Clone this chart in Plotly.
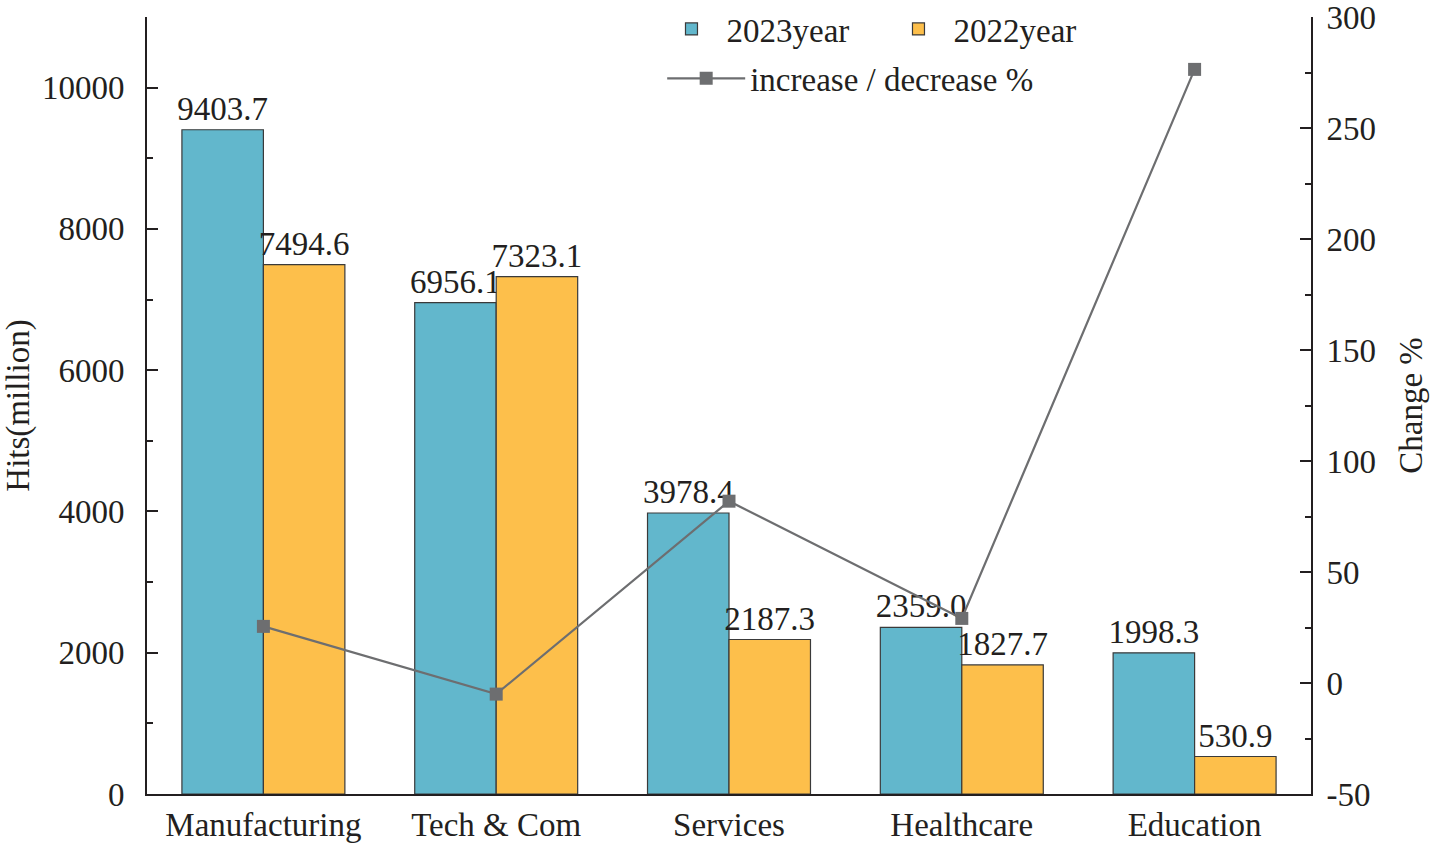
import plotly.graph_objects as go

categories = ["Manufacturing", "Tech & Com", "Services", "Healthcare", "Education"]
hits_2023 = [9403.7, 6956.1, 3978.4, 2359.0, 1998.3]
hits_2022 = [7494.6, 7323.1, 2187.3, 1827.7, 530.9]
change_pct = [25.5, -5.0, 81.9, 29.1, 276.4]
left_ticks = [0, 2000, 4000, 6000, 8000, 10000]
right_ticks = [-50, 0, 50, 100, 150, 200, 250, 300]

FONT = "Liberation Serif"
TXT = "#231f20"
FS = 33

fig = go.Figure()
fig.add_trace(go.Bar(
    x=categories, y=hits_2023, name="2023year",
    marker=dict(color="#62b7cc", line=dict(color="#3a3a3a", width=1.2)),
    text=[f"{v:.1f}" for v in hits_2023], textposition="outside",
    constraintext="none", cliponaxis=False,
    textfont=dict(family=FONT, size=FS, color=TXT),
    legend="legend",
))
fig.add_trace(go.Bar(
    x=categories, y=hits_2022, name="2022year",
    marker=dict(color="#fdbf4b", line=dict(color="#3a3a3a", width=1.2)),
    text=[f"{v:.1f}" for v in hits_2022], textposition="outside",
    constraintext="none", cliponaxis=False,
    textfont=dict(family=FONT, size=FS, color=TXT),
    legend="legend",
))
fig.add_trace(go.Scatter(
    x=categories, y=change_pct, name="increase / decrease %", yaxis="y2",
    mode="lines+markers",
    line=dict(color="#6d6e70", width=2.2),
    marker=dict(symbol="square", size=13, color="#6d6e70"),
    cliponaxis=False,
    legend="legend2",
))

axis_common = dict(
    showline=True, linecolor="#231f20", linewidth=2, showgrid=False, zeroline=False,
    tickfont=dict(family=FONT, size=FS, color=TXT), automargin=False,
    ticklabeloverflow="allow",
)

fig.update_layout(
    width=1432, height=844,
    margin=dict(l=147, r=121, t=17, b=50, autoexpand=False),
    paper_bgcolor="white", plot_bgcolor="white",
    font=dict(family=FONT, size=FS, color=TXT),
    barmode="group", bargap=0.3, bargroupgap=0,
    xaxis=dict(**axis_common, ticks="", range=[-0.5, 4.5], ticklabelstandoff=0),
    yaxis=dict(**axis_common, range=[0, 11000],
               tickvals=left_ticks, ticktext=[str(v) for v in left_ticks],
               ticks="inside", ticklen=11, tickwidth=2, tickcolor="#231f20",
               ticklabelstandoff=14,
               minor=dict(dtick=1000, tick0=0, ticks="inside", ticklen=6, tickwidth=2, tickcolor="#231f20"),
               title=dict(text="Hits(million)", font=dict(family=FONT, size=FS, color=TXT), standoff=13)),
    yaxis2=dict(**axis_common, overlaying="y", side="right", range=[-50, 300],
                tickvals=right_ticks, ticktext=[str(v) for v in right_ticks],
                ticks="inside", ticklen=11, tickwidth=2, tickcolor="#231f20",
                ticklabelstandoff=7,
                minor=dict(dtick=25, tick0=0, ticks="inside", ticklen=6, tickwidth=2, tickcolor="#231f20"),
                title=dict(text="Change %", font=dict(family=FONT, size=FS, color=TXT), standoff=24)),
    legend=dict(orientation="h", x=0.4377, y=1.0206, xanchor="left", yanchor="top",
                bgcolor="rgba(0,0,0,0)", font=dict(family=FONT, size=FS, color=TXT),
                entrywidth=152, entrywidthmode="pixels", itemwidth=60),
    legend2=dict(orientation="h", x=0.4426, y=0.957, xanchor="left", yanchor="top",
                 bgcolor="rgba(0,0,0,0)", font=dict(family=FONT, size=FS, color=TXT),
                 itemwidth=78),
)

fig.write_html(
    "out.html",
    config={"displayModeBar": False},
    post_script="document.body.style.margin='0';document.body.style.overflow='hidden';",
)
